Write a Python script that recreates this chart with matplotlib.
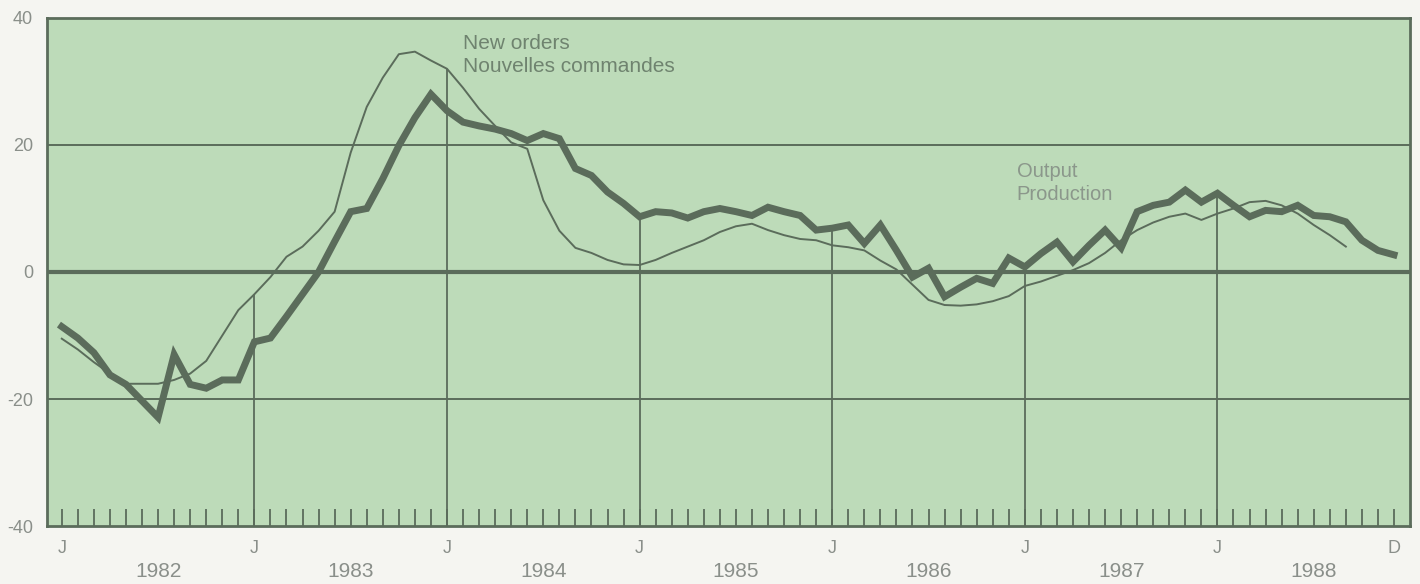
import numpy as np
import matplotlib.pyplot as plt

plt.rcParams['font.family'] = ['Liberation Sans', 'DejaVu Sans']

# monthly data, Jan 1982 .. Dec 1988 (index 0 = Jan 1982)
output = [-8.6, -10.4, -12.7, -16.2, -17.7, -20.3, -22.9, -13.0, -17.7, -18.3, -17.0, -17.0,
          -11.0, -10.4, -7.0, -3.5, 0.0, 4.8, 9.5, 10.0, 14.7, 19.9, 24.3, 28.0,
          25.4, 23.6, 23.0, 22.5, 21.8, 20.7, 21.8, 21.0, 16.3, 15.2, 12.6, 10.8,
          8.7, 9.5, 9.3, 8.5, 9.5, 10.0, 9.5, 8.9, 10.2, 9.5, 8.9, 6.6,
          6.9, 7.4, 4.5, 7.4, 3.4, -0.8, 0.6, -3.9, -2.4, -1.0, -1.8, 2.2,
          0.8, 2.9, 4.7, 1.6, 4.2, 6.6, 3.8, 9.5, 10.5, 11.0, 12.9, 11.0,
          12.4, 10.5, 8.7, 9.7, 9.5, 10.5, 8.9, 8.7, 7.9, 5.0, 3.4, 2.7]

new_orders = [-10.5, -12.2, -14.2, -16.0, -17.6, -17.6, -17.6, -17.0, -16.0, -14.0, -10.0, -6.0,
              -3.5, -0.8, 2.4, 4.0, 6.5, 9.5, 18.8, 26.0, 30.6, 34.3, 34.7, 33.3,
              32.0, 29.0, 25.7, 23.0, 20.4, 19.4, 11.3, 6.5, 3.8, 3.0, 1.9, 1.2,
              1.1, 1.9, 3.0, 4.0, 5.0, 6.3, 7.2, 7.6, 6.6, 5.8, 5.2, 5.0,
              4.2, 3.9, 3.4, 1.8, 0.4, -2.0, -4.4, -5.2, -5.3, -5.1, -4.6, -3.8,
              -2.2, -1.5, -0.6, 0.3, 1.4, 3.0, 5.0, 6.6, 7.8, 8.7, 9.2, 8.2,
              9.2, 10.0, 11.0, 11.2, 10.5, 9.2, 7.4, 5.8, 4.0]

years = ["1982", "1983", "1984", "1985", "1986", "1987", "1988"]
month_marks = [0, 12, 24, 36, 48, 60, 72, 83]
month_letters = ["J", "J", "J", "J", "J", "J", "J", "D"]
y_ticks = [-40, -20, 0, 20, 40]
y_labels = ["-40", "-20", "0", "20", "40"]

bg = "#bddbb9"
dark = "#5b6c5b"
grey = "#8a8f8a"

fig = plt.figure(figsize=(14.2, 5.84), dpi=100, facecolor="#f5f5f1")
ax = fig.add_axes([0.0331, 0.0993, 0.9599, 0.8699])
ax.set_facecolor(bg)

months = np.arange(len(output))
ax.set_xlim(-0.92, 84.0)
ax.set_ylim(-40, 40)

# grid
ax.axhline(20, color=dark, lw=1.4, zorder=1)
ax.axhline(-20, color=dark, lw=1.4, zorder=1)
ax.axhline(0, color=dark, lw=3.0, zorder=1)
for m in month_marks[1:-1]:
    top = max(output[m], new_orders[m])
    ax.vlines(m, -40, top, color=dark, lw=1.3, zorder=1)

ax.plot(np.arange(len(new_orders)), new_orders, color=dark, lw=1.4, zorder=3)
ax.plot(months, output, color=dark, lw=5.0, zorder=4, solid_joinstyle="miter")

for s in ax.spines.values():
    s.set_color(dark)
    s.set_linewidth(2.0)

ax.set_xticks(months)
ax.tick_params(axis="x", direction="in", length=12, width=1.3, color=dark,
               labelbottom=False)
ax.set_yticks(y_ticks)
ax.set_yticklabels(y_labels)
ax.tick_params(axis="y", length=0, pad=10, labelsize=13, labelcolor=grey)

for m, t in zip(month_marks, month_letters):
    ax.text(m, -43.5, t, ha="center", va="center", fontsize=13, color=grey, clip_on=False)
for k, y in enumerate(years):
    ax.text(12 * k + 6, -47.2, y, ha="center", va="center", fontsize=15, color=grey,
            clip_on=False)

ax.text(25.0, 35.1, "New orders", fontsize=15, color="#6f836f", va="baseline")
ax.text(25.0, 31.5, "Nouvelles commandes", fontsize=15, color="#6f836f", va="baseline")
ax.text(59.5, 15.0, "Output", fontsize=14.5, color="#8b978b", va="baseline")
ax.text(59.5, 11.3, "Production", fontsize=14.5, color="#8b978b", va="baseline")

fig.savefig("out.png", dpi=100, facecolor=fig.get_facecolor())
